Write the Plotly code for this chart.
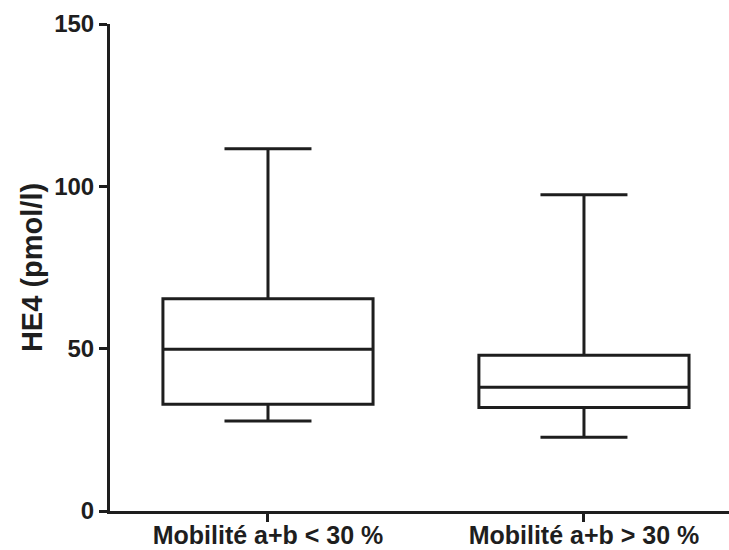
import plotly.graph_objects as go

categories = ["Mobilité a+b < 30 %", "Mobilité a+b > 30 %"]
lower_whisker = [27.7, 22.7]
q1_values = [32.9, 31.9]
median_values = [49.8, 38.1]
q3_values = [65.4, 48.0]
upper_whisker = [111.6, 97.4]
y_ticks = [0, 50, 100, 150]

INK = "#1e1e1e"
FONT = "Liberation Sans, Arial, sans-serif"

fig = go.Figure()
fig.add_trace(go.Box(
    x=categories,
    q1=q1_values,
    median=median_values,
    q3=q3_values,
    lowerfence=lower_whisker,
    upperfence=upper_whisker,
    boxpoints=False,
    width=0.665,
    whiskerwidth=0.414,
    line=dict(color=INK, width=3),
    fillcolor="white",
    showlegend=False,
))

fig.update_layout(
    width=729,
    height=550,
    margin=dict(l=110, r=0, t=24, b=39),
    paper_bgcolor="white",
    plot_bgcolor="white",
    font=dict(family=FONT, color=INK),
    xaxis=dict(
        type="category",
        range=[-0.5, 1.459],
        automargin=False,
        showline=True,
        linecolor=INK,
        linewidth=3,
        ticks="outside",
        ticklen=8,
        tickwidth=3,
        tickcolor=INK,
        ticklabelstandoff=-8,
        showgrid=False,
        zeroline=False,
        tickfont=dict(family=FONT, size=25, color=INK, weight="bold"),
    ),
    yaxis=dict(
        range=[0, 150],
        tickvals=y_ticks,
        automargin=False,
        showline=True,
        linecolor=INK,
        linewidth=3,
        ticks="outside",
        ticklen=8,
        tickwidth=3,
        tickcolor=INK,
        showgrid=False,
        zeroline=False,
        tickfont=dict(family=FONT, size=24, color=INK, weight="bold"),
        title=dict(text="HE4 (pmol/l)", standoff=4,
                   font=dict(family=FONT, size=29, color=INK, weight="bold")),
    ),
)

fig.write_html("out.html",
               config={"displayModeBar": False},
               post_script="document.body.style.margin='0';document.body.style.overflow='hidden';")
